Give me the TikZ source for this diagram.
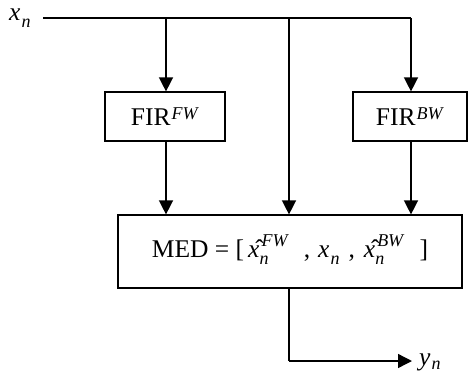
\documentclass[tikz,border=0pt]{standalone}
\usepackage{fontspec}
\setmainfont{Liberation Serif}
\usetikzlibrary{arrows.meta}
\newcommand{\scr}[1]{{\fontsize{18}{18}\selectfont\textit{#1}}}
\newcommand{\xsub}{\textit{x}\hspace{1pt}\raisebox{-7pt}{\scr{n}}}
\newcommand{\hxs}[1]{\^{\textit{x}}\rlap{\raisebox{-7pt}{\scr{n}}}\hspace{2pt}\raisebox{11pt}{\scr{#1}}}
\begin{document}
\begin{tikzpicture}[x=1pt,y=-1pt,
  blk/.style={draw,line width=1.2pt,minimum height=49pt,inner sep=0pt,font=\fontsize{25.5}{28}\selectfont},
  wire/.style={line width=1.4pt},
  arr/.style={line width=1.4pt,-{Triangle[width=14pt,length=14pt]}},
  lbl/.style={inner sep=0pt,anchor=base west,font=\fontsize{25.5}{28}\selectfont}]
\useasboundingbox (0,0) rectangle (469,373);
\node[lbl] (xn) at (9,20) {\xsub};
\node[blk,minimum width=120pt,text height=20pt,text depth=3pt] (fir1) at (165,116.5) {FIR\hspace{1pt}\raisebox{6pt}{\scr{FW}}};
\node[blk,minimum width=114pt,text height=20pt,text depth=3pt] (fir2) at (410,116.5) {FIR\hspace{1pt}\raisebox{6pt}{\scr{BW}}};
\node[blk,minimum width=344pt,minimum height=73pt,text height=18pt,text depth=7pt] (med) at (290,251.5)
  {MED = [\hspace{4pt}\hxs{FW}\hspace{15pt},\hspace{8pt}\xsub\hspace{9pt},\hspace{9pt}\hxs{BW}\hspace{15pt}]};
\node[lbl] (yn) at (419,365) {\textit{y}\hspace{1pt}\raisebox{-4pt}{\scr{n}}};
\coordinate (a) at (43,18);
\coordinate (b) at (166,18);
\coordinate (c) at (289,18);
\coordinate (d) at (411,18);
\coordinate (e) at (289,361);
\coordinate (f) at (412,361);
\draw[wire] (a) -- (d);
\draw[arr] (b) -- (b |- fir1.north);
\draw[arr] (d) -- (d |- fir2.north);
\draw[arr] (c) -- (c |- med.north);
\draw[arr] (b |- fir1.south) -- (b |- med.north);
\draw[arr] (d |- fir2.south) -- (d |- med.north);
\draw[wire] (e |- med.south) -- (e);
\draw[arr] (e) -- (f);
\end{tikzpicture}
\end{document}
